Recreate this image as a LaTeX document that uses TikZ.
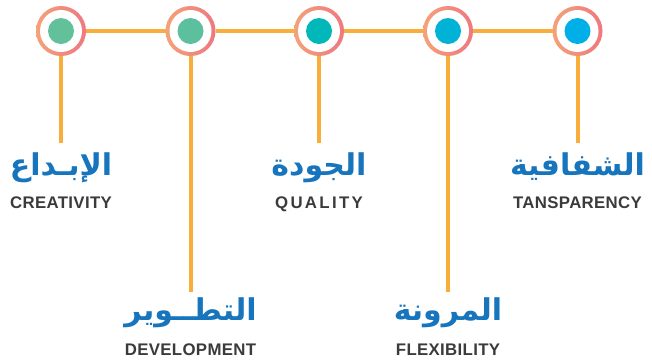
\documentclass[tikz,border=0pt]{standalone}
\usepackage{fontspec}
\setmainfont{Liberation Sans}
\newfontfamily\arabicfont[Script=Arabic]{DejaVu Sans}
\newfontfamily\enfont[LetterSpace=2]{Liberation Sans}
\newfontfamily\enwide[LetterSpace=14]{Liberation Sans}
\TeXXeTstate=1
\definecolor{lineor}{RGB}{249,173,59}
\definecolor{ringL}{RGB}{244,162,120}
\definecolor{ringR}{RGB}{238,120,128}
\definecolor{dotA}{RGB}{98,193,155}
\definecolor{dotB}{RGB}{92,191,158}
\definecolor{dotC}{RGB}{0,183,186}
\definecolor{dotD}{RGB}{0,178,214}
\definecolor{dotE}{RGB}{0,174,232}
\definecolor{arblue}{RGB}{23,117,189}
\definecolor{engray}{RGB}{59,59,59}
\tikzset{
  ring/.style={circle, inner sep=0pt, minimum size=50pt, left color=ringL, right color=ringR},
  hole/.style={circle, inner sep=0pt, minimum size=42pt, fill=white},
  dot/.style={circle, inner sep=0pt, minimum size=26pt, fill=#1},
  conn/.style={draw=lineor, line width=4pt},
  artext/.style={anchor=base, inner sep=0pt, text=arblue, font=\arabicfont\bfseries\fontsize{30}{34}\selectfont},
  entext/.style={anchor=base, inner sep=0pt, text=engray, font=\enfont\bfseries\fontsize{16.8}{20}\selectfont},
}
\begin{document}
\begin{tikzpicture}[x=1pt,y=-1pt]
\useasboundingbox (0,0) rectangle (652,360);
% circles
\foreach \i/\x/\c in {1/61/dotA,2/190.5/dotB,3/319/dotC,4/448/dotD,5/577.5/dotE}{
  \node[ring] (c\i) at (\x,31) {};
  \node[hole] (h\i) at (\x,31) {};
  \node[dot=\c] (d\i) at (\x,31) {};
}
% vertical end points
\coordinate (v1) at (61,143);
\coordinate (v2) at (190.5,292);
\coordinate (v3) at (319,143);
\coordinate (v4) at (448,292);
\coordinate (v5) at (577.5,143);
% connectors
\draw[conn] (c1) -- (c2);
\draw[conn] (c2) -- (c3);
\draw[conn] (c3) -- (c4);
\draw[conn] (c4) -- (c5);
\foreach \i in {1,...,5}{
  \draw[conn] (c\i.south) -- (v\i);
}
% labels
\node[artext] (a1) at (61,175) {\beginR الإبـداع\endR};
\node[entext] (e1) at (61,208.7) {CREATIVITY};
\node[artext] (a2) at (190.5,320) {\beginR التطــوير\endR};
\node[entext] (e2) at (190.5,355) {DEVELOPMENT};
\node[artext] (a3) at (319,175) {\beginR الجودة\endR};
\node[entext, font=\enwide\bfseries\fontsize{16.8}{20}\selectfont] (e3) at (319,208.7) {QUALITY};
\node[artext] (a4) at (448,320) {\beginR المرونة\endR};
\node[entext] (e4) at (448,355) {FLEXIBILITY};
\node[artext] (a5) at (577.5,175) {\beginR الشفافية\endR};
\node[entext] (e5) at (577.5,208.7) {TANSPARENCY};
\end{tikzpicture}
\end{document}
